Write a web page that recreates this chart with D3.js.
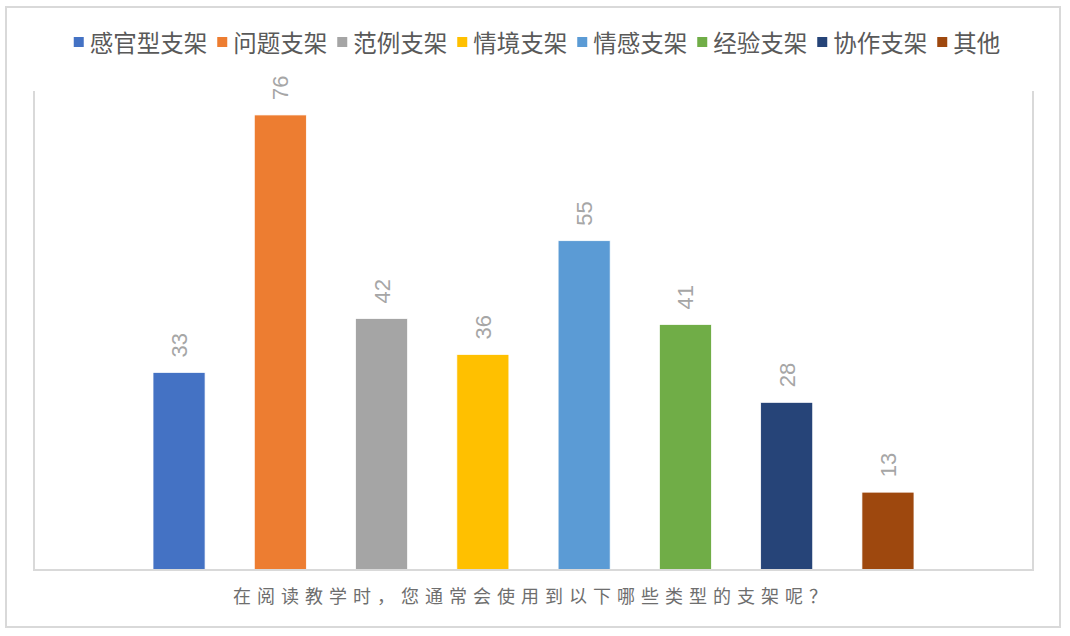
<!DOCTYPE html>
<html>
<head>
<meta charset="utf-8">
<script src="https://cdn.jsdelivr.net/npm/d3@7"></script>
<style>
  html, body { margin: 0; padding: 0; background: #fff; }
  svg { display: block; }
</style>
</head>
<body>
<svg id="chart" width="1070" height="636"></svg>
<script>
const category = "在阅读教学时，您通常会使用到以下哪些类型的支架呢？";
const seriesNames = ["感官型支架", "问题支架", "范例支架", "情境支架", "情感支架", "经验支架", "协作支架", "其他"];
const seriesValues = [33, 76, 42, 36, 55, 41, 28, 13];
const seriesColors = ["#4472C4", "#ED7D31", "#A5A5A5", "#FFC000", "#5B9BD5", "#70AD47", "#264478", "#9E480E"];
const yDomain = [0, 80];

const svg = d3.select("#chart");
const W = 1070, H = 636;
const plot = { left: 34, right: 1033, top: 91, bottom: 570 };
const cjk = "'Noto Sans CJK SC', 'Noto Sans', sans-serif";

// outer frame
svg.append("rect")
  .attr("x", 6).attr("y", 7).attr("width", 1054).attr("height", 620)
  .attr("fill", "#fff").attr("stroke", "#D9D9D9").attr("stroke-width", 2);

// scales
const x0 = d3.scaleBand().domain([category]).range([plot.left, plot.right]).paddingOuter(0.1564).paddingInner(0);
const x1 = d3.scaleBand().domain(seriesNames)
  .range([x0(category), x0(category) + x0.bandwidth()])
  .paddingInner(0.486).paddingOuter(0);
const y = d3.scaleLinear().domain(yDomain).range([plot.bottom, plot.top]);

// plot area side lines
svg.append("path")
  .attr("d", `M${plot.left},${plot.top}V${plot.bottom}H${plot.right}V${plot.top}`)
  .attr("fill", "none").attr("stroke", "#D9D9D9").attr("stroke-width", 2);

const data = seriesNames.map((n, i) => ({ name: n, value: seriesValues[i], color: seriesColors[i] }));

// bars
svg.append("g").selectAll("rect").data(data).join("rect")
  .attr("x", d => x1(d.name))
  .attr("y", d => y(d.value))
  .attr("width", x1.bandwidth())
  .attr("height", d => y(0) - y(d.value))
  .attr("fill", d => d.color)
  .attr("stroke", "#fff").attr("stroke-width", 0.75);

// x axis line (category axis)
const xAxis = d3.axisBottom(x0).tickSize(0).tickFormat("");
const gx = svg.append("g").attr("transform", `translate(0,${plot.bottom})`).call(xAxis);
gx.select(".domain").attr("stroke", "#D9D9D9").attr("stroke-width", 2)
  .attr("d", `M${plot.left},0H${plot.right}`);

// data labels (rotated)
svg.append("g").selectAll("text").data(data).join("text")
  .attr("transform", d => `translate(${x1(d.name) + x1.bandwidth() / 2},${y(d.value) - 15}) rotate(-90)`)
  .attr("text-anchor", "start")
  .attr("dy", "0.36em")
  .attr("font-family", "'Liberation Sans', Arial, sans-serif")
  .attr("font-size", 22)
  .attr("fill", "#A6A6A6")
  .text(d => d.value);

// category title
svg.append("text")
  .attr("x", 533).attr("y", 595)
  .attr("text-anchor", "middle")
  .attr("dominant-baseline", "central")
  .attr("font-family", cjk)
  .attr("font-size", 18)
  .attr("letter-spacing", 6)
  .attr("fill", "#6E6E6E")
  .text(category);

// legend
const lg = svg.append("g");
const items = lg.selectAll("g").data(data).join("g");
items.append("rect").attr("width", 10).attr("height", 10).attr("y", -5).attr("fill", d => d.color);
items.append("text").attr("x", 16).attr("dominant-baseline", "central")
  .attr("font-family", cjk).attr("font-size", 23.5).attr("fill", "#595959")
  .text(d => d.name);
let cx = 0;
items.each(function () {
  const g = d3.select(this);
  const tw = g.select("text").node().getComputedTextLength();
  g.attr("transform", `translate(${cx},0)`);
  cx += 16 + tw + 10;
});
const total = cx - 10;
lg.attr("transform", `translate(${537 - total / 2},42)`);
</script>
</body>
</html>
